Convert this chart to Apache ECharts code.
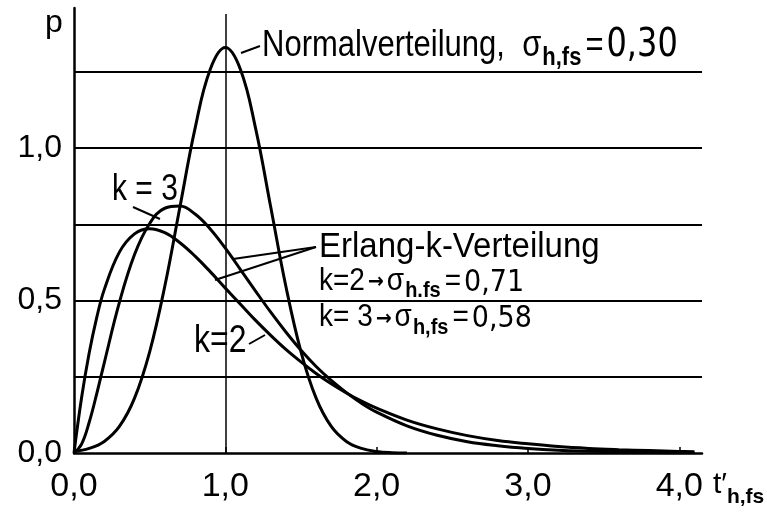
<!DOCTYPE html>
<html><head><meta charset="utf-8">
<script src="https://cdn.jsdelivr.net/npm/echarts@6/dist/echarts.min.js"></script>
<style>html,body{margin:0;padding:0;background:#fff}#c{width:767px;height:512px}</style>
</head><body><div id="c"></div>
<script>
// ---- data ----
const tNormal = [0,0.1,0.2,0.3,0.4,0.5,0.6,0.7,0.8,0.9,1.0,1.1,1.2,1.3,1.4,1.5,1.6,1.7,1.8,1.9,2.0,2.1,2.2];
const pNormal = [0.005,0.015,0.038,0.087,0.18,0.332,0.547,0.807,1.065,1.258,1.33,1.258,1.065,0.807,0.547,0.332,0.18,0.087,0.038,0.015,0.005,0.001,0];
const tErlang = [0,0.05,0.1,0.15,0.2,0.3,0.4,0.5,0.6,0.7,0.8,0.9,1.0,1.1,1.2,1.3,1.4,1.5,1.6,1.7,1.8,1.9,2.0,2.2,2.4,2.6,2.8,3.0,3.2,3.4,3.6,3.8,4.0,4.1];
const pK2 = [0,0.181,0.327,0.444,0.536,0.659,0.719,0.736,0.723,0.690,0.646,0.595,0.541,0.488,0.435,0.386,0.340,0.299,0.261,0.227,0.197,0.170,0.147,0.108,0.079,0.057,0.041,0.030,0.021,0.015,0.011,0.008,0.005,0.004];
const pK3 = [0,0.029,0.100,0.194,0.296,0.494,0.651,0.753,0.803,0.810,0.784,0.735,0.672,0.602,0.531,0.462,0.397,0.337,0.284,0.238,0.198,0.163,0.134,0.089,0.058,0.037,0.024,0.015,0.009,0.006,0.004,0.002,0.001,0.001];
const xTickValues = [0,1,2,3,4];
const yLabelValues = [0,0.5,1.0];
const gridLevels = [0.25,0.5,0.75,1.0,1.25];
const meanLine = 1.0;

const FONT = '"Liberation Sans", Arial, sans-serif';
const DIGITFONT = '"DejaVu Sans", sans-serif';
const ARROWFONT = 'bold 19px "DejaVu Sans", sans-serif';
const fmt = v => v.toFixed(1).replace('.', ',');
const zip = (a, b) => a.map((x, i) => [x, b[i]]);

const chart = echarts.init(document.getElementById('c'), null, {renderer: 'canvas'});
const curveStyle = {color: '#000', width: 3};

const richFor = (size, sub, digit, pb) => ({
  a: {font: size + 'px ' + FONT, verticalAlign: 'bottom', padding: [0,0,pb,0]},
  eq: {font: size + 'px ' + FONT, verticalAlign: 'bottom', padding: [0,3,pb,3]},
  d: {font: digit + 'px ' + DIGITFONT, verticalAlign: 'bottom', padding: [0,0,pb - 1,0]},
  arr: {font: ARROWFONT, verticalAlign: 'bottom', padding: [0,3,pb + 3,3]},
  sub: {font: 'bold ' + sub + 'px ' + FONT, verticalAlign: 'bottom', padding: [0,1,0,1]}
});

chart.setOption({
  animation: false,
  backgroundColor: '#fff',
  grid: {left: 74, right: 65, top: 8, bottom: 59},
  xAxis: {
    type: 'value', min: 0, max: 4.15, interval: 1,
    axisLine: {lineStyle: {color: '#000', width: 2.5}},
    axisTick: {show: true, inside: true, length: 6, customValues: xTickValues, lineStyle: {color: '#000', width: 1.5}},
    axisLabel: {customValues: xTickValues, formatter: fmt, fontSize: 34, color: '#000', fontFamily: FONT, margin: 17},
    splitLine: {show: false}
  },
  yAxis: {
    type: 'value', min: 0, max: 1.46, interval: 0.25,
    axisLine: {show: true, lineStyle: {color: '#000', width: 2.5}},
    axisTick: {show: false},
    axisLabel: {customValues: yLabelValues, formatter: fmt, fontSize: 32, color: '#000', fontFamily: FONT, margin: 12},
    splitLine: {show: false}
  },
  series: [
    {
      type: 'line', name: 'Normal', data: zip(tNormal, pNormal), smooth: 0.4, showSymbol: false,
      lineStyle: curveStyle, z: 3,
      markLine: {
        silent: true, symbol: ['none', 'none'], label: {show: false},
        lineStyle: {color: '#000', width: 2, type: 'solid'},
        data: gridLevels.map(v => ({yAxis: v})).concat([
          [{coord: [meanLine, 0], lineStyle: {width: 1.5}}, {coord: [meanLine, 1.44]}]
        ])
      }
    },
    {type: 'line', name: 'k=2', data: zip(tErlang, pK2), smooth: 0.4, showSymbol: false, lineStyle: curveStyle, z: 3},
    {type: 'line', name: 'k=3', data: zip(tErlang, pK3), smooth: 0.4, showSymbol: false, lineStyle: curveStyle, z: 3}
  ],
  graphic: [
    {type: 'text', left: 45, top: 7, style: {text: 'p', font: '32px ' + FONT, fill: '#000'}},
    {type: 'text', left: 262, top: 27, scaleY: 1.2, style: {
      text: '{a|Normalverteilung,  σ}{sub|h,fs}{eq|=}{d|0,30}', fill: '#000', rich: richFor(31, 22, 32, 6)}},
    {type: 'text', left: 319, top: 229, scaleY: 1.08, style: {text: 'Erlang-k-Verteilung', font: '33px ' + FONT, fill: '#000'}},
    {type: 'text', left: 319, top: 266, scaleY: 1.1, style: {
      text: '{a|k=2}{arr|→}{a|σ}{sub|h.fs}{eq|=}{d|0,71}', fill: '#000', rich: richFor(28, 20, 27, 5)}},
    {type: 'text', left: 319, top: 302, scaleY: 1.12, style: {
      text: '{a|k= 3}{arr|→}{a|σ}{sub|h,fs}{eq|=}{d|0,58}', fill: '#000', rich: richFor(28, 20, 27, 5)}},
    {type: 'text', left: 112, top: 172, scaleY: 1.22, style: {text: 'k = 3', font: '30px ' + FONT, fill: '#000'}},
    {type: 'text', left: 194, top: 322, scaleY: 1.22, style: {text: 'k=2', font: '32px ' + FONT, fill: '#000'}},
    {type: 'text', left: 713, top: 470, style: {
      text: "{t|t′}{sub|h,fs}", fill: '#000',
      rich: {
        t: {font: '30px ' + FONT, verticalAlign: 'bottom', padding: [0,0,8,0]},
        sub: {font: 'bold 21px ' + FONT, verticalAlign: 'bottom'}
      }}},
    {type: 'line', shape: {x1: 241, y1: 53, x2: 260, y2: 46}, style: {stroke: '#000', lineWidth: 2}},
    {type: 'line', shape: {x1: 133, y1: 207, x2: 160, y2: 219}, style: {stroke: '#000', lineWidth: 2}},
    {type: 'line', shape: {x1: 249, y1: 344, x2: 265, y2: 335}, style: {stroke: '#000', lineWidth: 2}},
    {type: 'line', shape: {x1: 316, y1: 247, x2: 233, y2: 259}, style: {stroke: '#000', lineWidth: 2}},
    {type: 'line', shape: {x1: 316, y1: 247, x2: 215, y2: 280}, style: {stroke: '#000', lineWidth: 2}}
  ]
});
</script></body></html>
